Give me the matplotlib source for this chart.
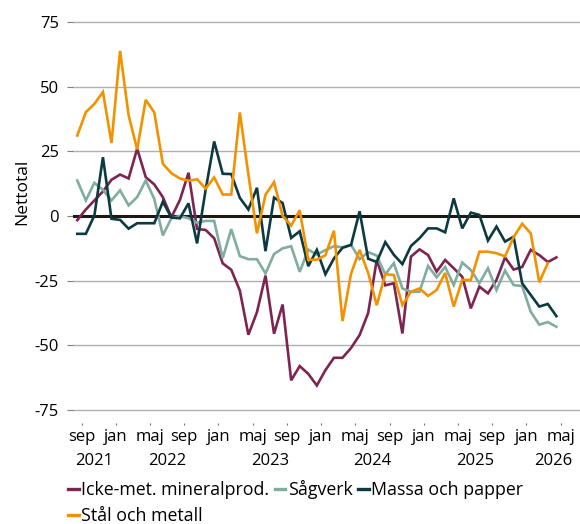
"""Nettotal per bransch, månadsdata aug 2021 - apr 2026."""

import numpy as np
import pandas as pd
import matplotlib
matplotlib.use("Agg")
import matplotlib.pyplot as plt
from matplotlib.lines import Line2D
from matplotlib.transforms import blended_transform_factory

# monthly points, first = aug 2021, last = apr 2026
months = pd.period_range("2021-08", "2026-04", freq="M")

icke_met = [-1.6, 2.5, 6.0, 9.5, 14.0, 16.0, 14.5, 26.0, 15.0, 12.2,
            7.3, -0.5, 6.2, 16.7, -5.0, -5.4, -8.6, -18.3, -20.8, -28.8,
            -45.9, -37.2, -23.0, -45.5, -34.2, -63.5, -58.0, -61.0, -65.5, -59.6,
            -54.8, -54.8, -51.0, -46.0, -37.5, -17.0, -26.8, -26.0, -45.4, -15.7,
            -12.9, -15.1, -21.5, -17.0, -20.2, -23.5, -35.7, -27.3, -29.9, -24.7,
            -16.0, -20.7, -19.7, -13.1, -15.1, -17.8, -16.0]

sagverk = [13.7, 6.0, 12.8, 10.1, 6.0, 9.9, 4.1, 7.3, 13.7, 6.6,
           -7.5, -0.9, 0.0, -0.9, -2.6, -1.9, -1.9, -16.3, -5.1, -15.5,
           -16.7, -16.7, -22.2, -14.7, -12.5, -11.7, -21.6, -13.0, -14.9, -13.2,
           -11.7, -12.1, -11.1, -16.7, -14.0, -15.3, -22.6, -18.2, -28.0, -29.3,
           -29.3, -19.3, -23.7, -19.7, -26.7, -18.0, -20.9, -26.0, -20.2, -28.6,
           -21.1, -26.7, -27.1, -37.0, -42.0, -41.0, -42.8]

massa_papper = [-6.9, -6.9, 0.2, 22.7, -1.1, -1.5, -4.9, -2.8, -2.8, -2.8,
                5.5, -0.6, -0.9, 4.9, -10.6, 10.0, 28.8, 16.3, 16.2, 7.0,
                2.5, 10.9, -13.6, 7.1, 5.0, -8.5, -5.9, -19.4, -13.1, -22.5,
                -16.4, -12.3, -11.2, 1.8, -16.5, -17.8, -10.1, -15.0, -18.6, -11.6,
                -8.6, -4.8, -4.8, -6.3, 6.8, -4.8, 1.3, 0.4, -9.5, -4.1,
                -9.9, -8.0, -26.0, -30.5, -35.0, -34.0, -38.7]

stal_metall = [31.1, 40.1, 43.3, 47.9, 28.2, 63.8, 38.9, 25.7, 44.9, 40.0,
               20.2, 16.5, 14.5, 13.6, 14.2, 10.6, 14.9, 8.3, 8.3, 40.0,
               16.0, -6.7, 8.2, 13.1, 0.0, -3.7, 2.2, -16.9, -16.9, -15.2,
               -5.7, -40.6, -22.3, -13.1, -22.0, -34.5, -22.5, -22.8, -34.4, -29.3,
               -28.0, -30.9, -28.6, -22.0, -35.0, -24.7, -24.7, -13.8, -13.8, -14.4,
               -15.6, -8.2, -3.0, -6.7, -25.6, -18.2, np.nan]

series = [
    ("Icke-met. mineralprod.", icke_met, "#7d2450"),
    ("Sågverk", sagverk, "#80ad9f"),
    ("Massa och papper", massa_papper, "#0c3a40"),
    ("Stål och metall", stal_metall, "#f39200"),
]

month_names = {1: "jan", 5: "maj", 9: "sep"}

plt.rcParams["font.family"] = ["Open Sans", "DejaVu Sans"]
plt.rcParams["font.size"] = 12

fig = plt.figure(figsize=(5.8, 5.24), dpi=100)
ax = fig.add_axes([73 / 580, 0.1927, 1 - 73 / 580, 0.9632 - 0.1927])

x = np.arange(len(months))
for name, vals, color in series:
    ax.plot(x, vals, color=color, linewidth=1.9, label=name, zorder=3,
            solid_joinstyle="miter")

ax.axhline(0, color="#1c1812", linewidth=2.2, zorder=2)
ax.set_xlim(-0.5, 58.76)
ax.set_ylim(-80, 76)

ax.set_yticks([75, 50, 25, 0, -25, -50, -75])
ax.set_yticklabels(["75", "50", "25", "0", "-25", "-50", "-75"])
ax.grid(axis="y", color="#b0b0b0", linewidth=1.0, zorder=1)
ax.tick_params(axis="y", length=4, width=0.8, color="#808080", pad=6,
               labelsize=12)

# month ticks sit at the boundary before each labelled month,
# running one month past the data (maj 2026)
tick_months = pd.period_range(months[0], months[-1] + 1, freq="M")
tick_pos, tick_lab, jan_pos = [], [], []
for i, p in enumerate(tick_months):
    if p.month in month_names:
        tick_pos.append(i - 0.5)
        tick_lab.append(month_names[p.month])
        if p.month == 1:
            jan_pos.append(i - 0.5)
ax.set_xticks(tick_pos)
ax.set_xticklabels(tick_lab)
ax.set_xticks(jan_pos, minor=True)
ax.tick_params(axis="x", which="major", length=1.5, width=0.8, color="#707070",
               pad=3, labelsize=12)
ax.tick_params(axis="x", which="minor", length=3.5, width=0.8, color="#707070")

# year labels centred on each year's visible span
trans = blended_transform_factory(ax.transData, ax.transAxes)
lo, hi = ax.get_xlim()
for yr in range(2021, 2027):
    idx = [i for i, p in enumerate(months) if p.year == yr]
    a = max(idx[0] - 0.5, lo)
    b = min(idx[-1] + 0.5, hi) if yr < 2026 else hi
    ax.text((a + b) / 2, -0.093, str(yr), transform=trans, ha="center",
            va="center", fontsize=12)

for s in ax.spines.values():
    s.set_visible(False)

fig.text(22 / 580, 1 - 192 / 524, "Nettotal", rotation=90, ha="center",
         va="center", fontsize=12.5)

handles = {name: Line2D([], [], color=c, linewidth=2.4) for name, _, c in series}
order = ["Icke-met. mineralprod.", "Stål och metall", "Sågverk", "Massa och papper"]
fig.legend([handles[n] for n in order], order, ncol=3, loc="upper left",
           bbox_to_anchor=(68 / 580, 1 - 480 / 524), frameon=False,
           handlelength=0.6, handletextpad=0.15, columnspacing=0.3,
           labelspacing=0.45, fontsize=12.8, borderaxespad=0, borderpad=0)

fig.savefig("out.png", dpi=100)
